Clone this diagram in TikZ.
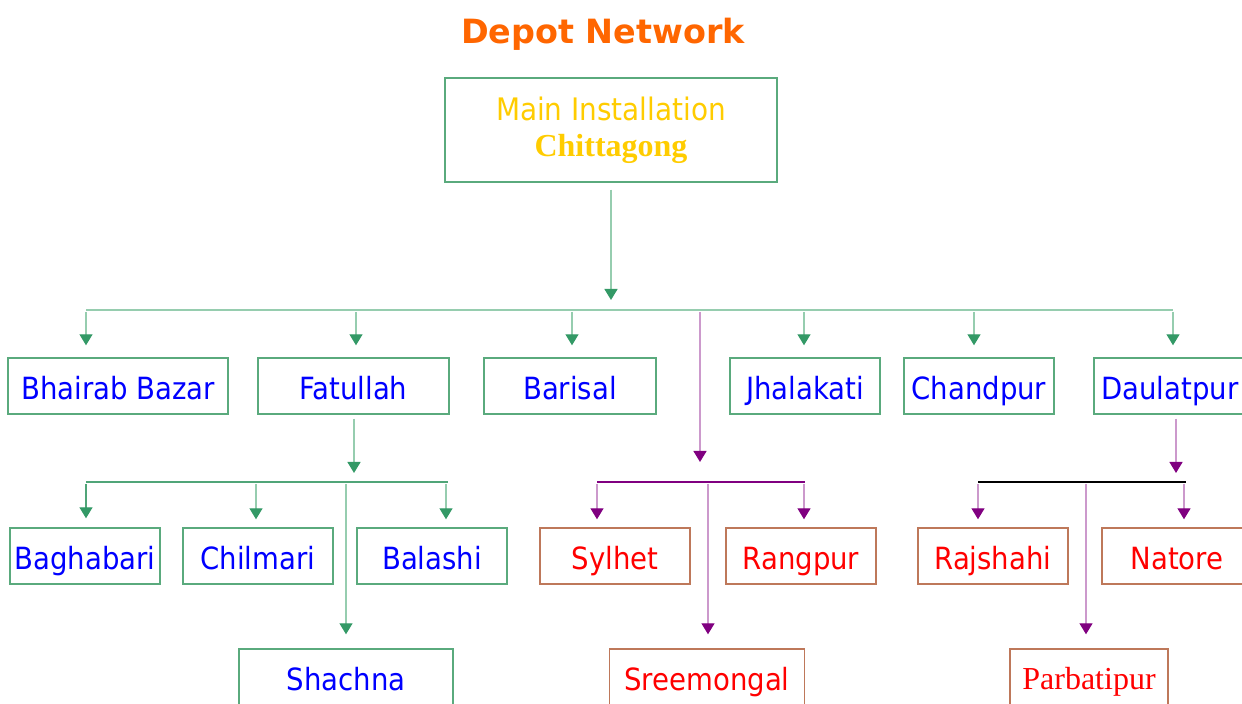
\documentclass[tikz,border=0pt]{standalone}
\usepackage{fontspec}
\setsansfont{DejaVu Sans Condensed}
\newfontfamily\titleface{DejaVu Sans}
\newfontfamily\timesface{Liberation Serif}
\usetikzlibrary{arrows.meta}
\definecolor{gdark}{RGB}{51,153,102}
\definecolor{glight}{RGB}{150,205,175}
\definecolor{gmid}{RGB}{80,165,120}
\definecolor{gborder}{RGB}{90,170,125}
\definecolor{pdark}{RGB}{128,0,128}
\definecolor{plight}{RGB}{204,153,204}
\definecolor{rborder}{RGB}{190,120,90}
\definecolor{titleorange}{RGB}{255,102,0}
\definecolor{mainyellow}{RGB}{255,204,0}
\tikzset{
    base/.style={rectangle,inner sep=0pt,minimum height=28pt,line width=0.7pt,
        font=\sffamily\fontsize{15.3}{19}\selectfont,text height=14pt,text depth=0pt},
    gbox/.style={base,draw=gborder,text=blue},
    rbox/.style={base,draw=rborder,text=red},
    garrow/.style={draw=glight,line width=0.7pt,
        -{Triangle[width=6.5pt,length=5.5pt,color=gdark]}},
    parrow/.style={draw=plight,line width=0.7pt,
        -{Triangle[width=6.5pt,length=5.5pt,color=pdark]}},
}
\begin{document}
\begin{tikzpicture}[x=0.5pt,y=-0.5pt]
        \useasboundingbox (0,0) rectangle (1242,704);
        %% Title and main installation
        \node[font=\titleface\bfseries\fontsize{16.7}{19}\selectfont,text=titleorange]
            (title) at (603,34) {Depot Network};
        \node[rectangle,draw=gborder,line width=0.7pt,text=mainyellow,align=center,
            minimum width=166pt,minimum height=52pt,inner sep=0pt,
            font=\sffamily\fontsize{15.5}{19}\selectfont]
            (main) at (611,130) {Main Installation\\[-1pt]{\timesface\bfseries\fontsize{16}{19}\selectfont Chittagong}};
        %% First row
        \node[gbox,minimum width=110pt] (bhairab) at (118,386) {Bhairab Bazar};
        \node[gbox,minimum width=95.5pt] (fatullah) at (353.5,386) {Fatullah};
        \node[gbox,minimum width=86pt] (barisal) at (570,386) {Barisal};
        \node[gbox,minimum width=75pt] (jhalakati) at (805,386) {Jhalakati};
        \node[gbox,minimum width=75pt] (chandpur) at (979,386) {Chandpur};
        \node[gbox,minimum width=76pt] (daulatpur) at (1170,386) {Daulatpur};
        %% Second row
        \node[gbox,minimum width=75pt] (baghabari) at (85,556) {Baghabari};
        \node[gbox,minimum width=75pt] (chilmari) at (258,556) {Chilmari};
        \node[gbox,minimum width=75pt] (balashi) at (432,556) {Balashi};
        \node[rbox,minimum width=75pt] (sylhet) at (615,556) {Sylhet};
        \node[rbox,minimum width=75pt] (rangpur) at (801,556) {Rangpur};
        \node[rbox,minimum width=75pt] (rajshahi) at (993,556) {Rajshahi};
        \node[rbox,minimum width=75pt] (natore) at (1177,556) {Natore};
        %% Third row
        \node[gbox,minimum width=107pt] (shachna) at (346,677) {Shachna};
        \node[rbox,minimum width=97.5pt] (sreemongal) at (707,677) {Sreemongal};
        \node[rbox,minimum width=79pt,font=\timesface\fontsize{16}{19}\selectfont,
            text height=13pt] (parbatipur) at (1089,677) {Parbatipur};
        %% Junction points
        \coordinate (mainjoin) at (611,310);
        \coordinate (busW) at (86,310);
        \coordinate (busE) at (1173,310);
        \coordinate (toFat) at (356,310);
        \coordinate (toBar) at (572,310);
        \coordinate (toJha) at (804,310);
        \coordinate (toCha) at (974,310);
        \coordinate (toSouth) at (700,310);
        \coordinate (fatjoin) at (354,482);
        \coordinate (fatW) at (86,482);
        \coordinate (fatE) at (448,482);
        \coordinate (toChi) at (256,482);
        \coordinate (toBal) at (446,482);
        \coordinate (toSha) at (346,482);
        \coordinate (southjoin) at (700,482);
        \coordinate (southW) at (597,482);
        \coordinate (southE) at (805,482);
        \coordinate (toSre) at (708,482);
        \coordinate (toRan) at (804,482);
        \coordinate (dauljoin) at (1176,482);
        \coordinate (daulW) at (978,482);
        \coordinate (daulE) at (1186,482);
        \coordinate (toPar) at (1086,482);
        \coordinate (toNat) at (1184,482);
        %% Main to first row
        \draw[garrow,shorten <=3.5pt,shorten >=5pt] (main.south -| mainjoin) -- (mainjoin);
        \draw[draw=glight,line width=0.7pt] (busW) -- (busE);
        \draw[garrow,shorten <=1pt,shorten >=6pt] (busW) -- (busW |- bhairab.north);
        \draw[garrow,shorten <=1pt,shorten >=6pt] (toFat) -- (toFat |- fatullah.north);
        \draw[garrow,shorten <=1pt,shorten >=6pt] (toBar) -- (toBar |- barisal.north);
        \draw[garrow,shorten <=1pt,shorten >=6pt] (toJha) -- (toJha |- jhalakati.north);
        \draw[garrow,shorten <=1pt,shorten >=6pt] (toCha) -- (toCha |- chandpur.north);
        \draw[garrow,shorten <=1pt,shorten >=6pt] (busE) -- (busE |- daulatpur.north);
        %% Fatullah group
        \draw[garrow,shorten <=2pt,shorten >=4.5pt] (fatullah.south -| fatjoin) -- (fatjoin);
        \draw[draw=gmid,line width=0.7pt] (fatW) -- (fatE);
        \draw[garrow,draw=gmid,shorten <=1pt,shorten >=4.5pt] (fatW) -- (fatW |- baghabari.north);
        \draw[garrow,shorten <=1pt,shorten >=4pt] (toChi) -- (toChi |- chilmari.north);
        \draw[garrow,shorten <=1pt,shorten >=4pt] (toBal) -- (toBal |- balashi.north);
        \draw[garrow,shorten <=1pt,shorten >=7pt] (toSha) -- (shachna.north -| toSha);
        %% Southern group
        \draw[parrow,shorten <=1pt,shorten >=10pt] (toSouth) -- (southjoin);
        \draw[draw=pdark,line width=0.7pt] (southW) -- (southE);
        \draw[parrow,shorten <=1pt,shorten >=4pt] (southW) -- (southW |- sylhet.north);
        \draw[parrow,shorten <=1pt,shorten >=4pt] (toRan) -- (toRan |- rangpur.north);
        \draw[parrow,shorten <=1pt,shorten >=7pt] (toSre) -- (toSre |- sreemongal.north);
        %% Daulatpur group
        \draw[parrow,shorten <=2pt,shorten >=4.5pt] (daulatpur.south -| dauljoin) -- (dauljoin);
        \draw[draw=black,line width=0.7pt] (daulW) -- (daulE);
        \draw[parrow,shorten <=1pt,shorten >=4pt] (daulW) -- (daulW |- rajshahi.north);
        \draw[parrow,shorten <=1pt,shorten >=4pt] (toNat) -- (toNat |- natore.north);
        \draw[parrow,shorten <=1pt,shorten >=7pt] (toPar) -- (toPar |- parbatipur.north);
    \end{tikzpicture}
\end{document}
